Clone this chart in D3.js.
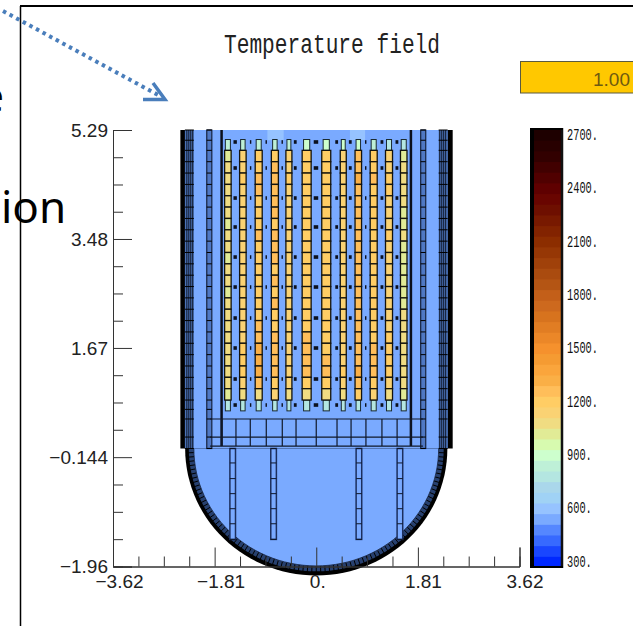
<!DOCTYPE html>
<html>
<head>
<meta charset="utf-8">
<script src="https://cdnjs.cloudflare.com/ajax/libs/d3/7.8.5/d3.min.js"></script>
<style>
html, body { margin: 0; padding: 0; background: #fff; overflow: hidden; }
svg { display: block; }
text { font-family: "Liberation Mono", monospace; }
</style>
</head>
<body>
<script>
// axis ticks
var xTicks = [-3.62, -1.81, 0, 1.81, 3.62];
var xTickLabels = ['\u22123.62', '\u22121.81', '0.', '1.81', '3.62'];
var xMinor = [-3.1675, -2.715, -2.2625, -1.3575, -0.905, -0.4525, 0.4525, 0.905, 1.3575, 2.2625, 2.715, 3.1675];
var yTicks = [5.29, 3.48, 1.67, -0.144, -1.96];
var yTickLabels = ['5.29', '3.48', '1.67', '\u22120.144', '\u22121.96'];
var yMinor = [4.8375, 4.385, 3.9325, 3.0275, 2.575, 2.1225, 1.2175, 0.764, 0.311, -0.598, -1.052, -1.506];

// colour bar, one band per 60 degrees, bottom to top
var bandColors = ['rgb(0,40,255)','rgb(25,70,255)','rgb(55,105,255)','rgb(85,135,255)','rgb(122,170,255)','rgb(150,195,255)',
  'rgb(160,210,245)','rgb(170,215,235)','rgb(180,230,225)','rgb(190,240,215)','rgb(205,255,205)','rgb(215,250,175)',
  'rgb(225,235,150)','rgb(240,220,130)','rgb(250,210,115)','rgb(255,205,100)','rgb(255,190,90)','rgb(250,175,70)',
  'rgb(250,165,60)','rgb(245,155,50)','rgb(245,145,45)','rgb(235,135,40)','rgb(225,125,35)','rgb(215,115,30)',
  'rgb(205,105,30)','rgb(195,95,25)','rgb(180,85,20)','rgb(170,75,15)','rgb(160,65,10)','rgb(150,55,5)',
  'rgb(140,45,0)','rgb(130,35,0)','rgb(120,25,0)','rgb(110,15,0)','rgb(105,5,0)','rgb(95,0,0)',
  'rgb(80,0,0)','rgb(65,0,0)','rgb(50,0,0)','rgb(40,0,0)','rgb(30,0,0)'];
var barTicks = [300, 600, 900, 1200, 1500, 1800, 2100, 2400, 2700];
var barLabels = ['300.', '600.', '900.', '1200.', '1500.', '1800.', '2100.', '2400.', '2700.'];

// fuel rods
var rodX = [-1.574, -1.307, -1.025, -0.737, -0.487, -0.171, 0.178, 0.481, 0.749, 1.023, 1.296, 1.558];
var rodW = [0.116, 0.116, 0.125, 0.125, 0.107, 0.16, 0.16, 0.107, 0.116, 0.125, 0.125, 0.116];
var rodHeadW = [0.09, 0.08, 0.09, 0.08, 0.07, 0.11, 0.11, 0.07, 0.08, 0.09, 0.09, 0.09];
var rodHeadTop = [840, 840, 840, 840, 840, 900, 900, 900, 900, 840, 780, 780];
var rodHeadBottom = [780, 780, 780, 780, 780, 780, 780, 780, 780, 780, 780, 780];
var rodTemps = [
  [1020,1080,1080,1080,1080,1080,1020,1080,1080,1020,1080,1080,1020,1080,1080,1080,1080,1080,1080,1080,1080,1020],
  [1140,1140,1200,1140,1140,1140,1140,1140,1140,1140,1140,1140,1140,1140,1140,1140,1140,1200,1200,1200,1140,1080],
  [1200,1200,1260,1260,1200,1200,1200,1260,1200,1200,1200,1200,1200,1200,1200,1260,1260,1320,1320,1320,1260,1080],
  [1200,1260,1260,1260,1260,1260,1200,1260,1260,1260,1200,1260,1200,1260,1200,1200,1260,1260,1260,1260,1200,1140],
  [1140,1140,1200,1140,1140,1140,1140,1140,1140,1140,1140,1140,1140,1140,1140,1140,1140,1140,1140,1140,1140,1080],
  [1200,1200,1200,1200,1200,1200,1200,1200,1200,1200,1200,1200,1200,1200,1200,1200,1260,1260,1260,1260,1200,1080],
  [1200,1200,1200,1200,1200,1200,1200,1200,1200,1200,1200,1200,1200,1200,1200,1200,1200,1200,1260,1260,1200,1080],
  [1140,1140,1140,1140,1140,1140,1140,1140,1140,1140,1140,1140,1140,1140,1140,1140,1140,1140,1140,1200,1140,1080],
  [1260,1260,1320,1260,1260,1260,1260,1260,1260,1260,1260,1260,1260,1260,1260,1260,1260,1260,1260,1320,1260,1200],
  [1200,1200,1260,1200,1200,1200,1200,1200,1200,1200,1200,1200,1200,1200,1200,1200,1200,1260,1260,1260,1200,1140],
  [1140,1140,1200,1200,1140,1140,1140,1200,1140,1140,1140,1140,1140,1140,1140,1140,1200,1200,1200,1200,1140,1080],
  [1020,1080,1080,1080,1080,1020,1020,1080,1020,1020,1020,1020,1020,1020,1080,1080,1080,1080,1080,1080,1080,1020]
];
var rodBottom = 0.805;
var rodSegH = 0.1885;
var rodHeadH = 0.18;

// small guide pins between the rods
var pinX = [-1.444, -1.169, -0.891, -0.606, -0.374, -0.005, 0.364, 0.606, 0.881, 1.17, 1.437];
var pinW = [0.06, 0.025, 0.025, 0.025, 0.05, 0.08, 0.05, 0.05, 0.025, 0.05, 0.05];
var pinY = [5.091, 4.659, 4.16, 3.679, 3.18, 2.682, 2.167, 1.669, 1.154, 0.722];

// support plate and columns under the core
var plateY = [0.49, 0.19, 0.04];
var plateX = [-1.686, -1.43, -1.175, -0.89, -0.605, -0.36, 0, 0.37, 0.62, 0.885, 1.17, 1.44, 1.686];
var columnX = [-1.488, -0.76, 0.76, 1.49];
var columnLevels = [0, -0.24, -0.5, -0.75, -1, -1.25, -1.51];

// warmer cells at the top of the coolant
var warmCellX0 = [-1.15, -0.87, 0.6, 0.6];
var warmCellX1 = [-0.38, -0.58, 0.87, 1.08];
var warmCellY0 = [4.95, 5.12, 5.12, 4.95];
var warmCellY1 = [5.12, 5.29, 5.29, 5.12];
var warmCellT = [555, 600, 600, 555];
var coolantT = 540;

var wallLines = [2.2, 2.235, 2.27, 2.305];
var xLabelShift = [6, 6, 1, 5, 5];
var width = 633, height = 626;

var svg = d3.select('body').append('svg').attr('width', width).attr('height', height);

var x = d3.scaleLinear().domain([-3.62, 3.62]).range([113, 519.5]);
var y = d3.scaleLinear().domain([-1.96, 5.29]).range([566.5, 130]);
var tempColor = d3.scaleQuantize().domain([270, 2730]).range(bandColors);

// slide leftovers behind the chart
svg.append('line').attr('x1', 20.5).attr('x2', 20.5).attr('y1', 6).attr('y2', 626)
  .style('stroke', '#000').style('stroke-width', 1.5);
svg.append('line').attr('x1', 20).attr('x2', 633).attr('y1', 6).attr('y2', 6)
  .style('stroke', '#000').style('stroke-width', 2);
svg.append('text').attr('x', 1).attr('y', 223).text('ion')
  .style('font-family', '"Noto Sans"').style('font-size', '44px').style('fill', '#000');
svg.append('text').attr('x', 4).attr('y', 112).attr('text-anchor', 'end').text('e')
  .style('font-family', '"Noto Sans"').style('font-size', '44px').style('fill', '#000');
svg.append('path').attr('d', 'M3,11L160,96').style('fill', 'none')
  .style('stroke', '#4a7ebb').style('stroke-width', 4).style('stroke-dasharray', '3.5,4');
svg.append('path').attr('d', 'M153,83L165,99.5L143,99.5').style('fill', 'none')
  .style('stroke', '#4a7ebb').style('stroke-width', 3.5);

// title and the time box
svg.append('text').attr('x', 224).attr('y', 53).text('Temperature field')
  .attr('textLength', 216).attr('lengthAdjust', 'spacingAndGlyphs')
  .style('font-size', '27px').style('fill', '#222');
svg.append('rect').attr('x', 520.5).attr('y', 61.5).attr('width', 120).attr('height', 31.5)
  .style('fill', '#ffc800').style('stroke', '#5a5a40');
svg.append('text').attr('x', 593).attr('y', 86).text('1.00')
  .style('font-family', '"Liberation Sans"').style('font-size', '19px').style('fill', '#6e5a10');

// coolant field
var vessel = svg.append('g');
var angles = d3.range(0, 181, 3);
function ringPoint(rx, ry, a) {
  var t = a * Math.PI / 180;
  return [x(rx * Math.cos(t)), y(-ry * Math.sin(t))];
}
function ringPath(rx, ry) {
  return d3.line()(angles.map(function(a) { return ringPoint(rx, ry, a); })) + 'Z';
}
vessel.append('path').attr('d', ringPath(2.335, 2.11)).style('fill', '#000');
vessel.append('path').attr('d', ringPath(2.27, 2.04)).style('fill', '#27406f');
vessel.selectAll('.cell').data(d3.range(0, 180, 2)).enter().append('line')
  .attr('x1', function(a) { return ringPoint(2.18, 1.95, a)[0]; })
  .attr('y1', function(a) { return ringPoint(2.18, 1.95, a)[1]; })
  .attr('x2', function(a) { return ringPoint(2.3, 2.07, a)[0]; })
  .attr('y2', function(a) { return ringPoint(2.3, 2.07, a)[1]; })
  .style('stroke', '#000').style('stroke-width', 1);
vessel.append('path').attr('d', ringPath(2.18, 1.95)).style('fill', tempColor(coolantT))
  .style('stroke', '#16233f').style('stroke-width', 0.8);

vessel.append('rect').attr('x', x(-2.42)).attr('width', x(2.43) - x(-2.42))
  .attr('y', y(5.29)).attr('height', y(0) - y(5.29)).style('fill', '#000');
vessel.append('rect').attr('x', x(-2.34)).attr('width', x(2.345) - x(-2.34))
  .attr('y', y(5.29)).attr('height', y(0) - y(5.29)).style('fill', '#4b73b8');
vessel.append('rect').attr('x', x(-2.18)).attr('width', x(2.18) - x(-2.18))
  .attr('y', y(5.29)).attr('height', y(0) - y(5.29)).style('fill', tempColor(coolantT));

vessel.selectAll('.warm').data(warmCellT).enter().append('rect')
  .attr('x', function(d, i) { return x(warmCellX0[i]); })
  .attr('width', function(d, i) { return x(warmCellX1[i]) - x(warmCellX0[i]); })
  .attr('y', function(d, i) { return y(warmCellY1[i]); })
  .attr('height', function(d, i) { return y(warmCellY0[i]) - y(warmCellY1[i]); })
  .style('fill', function(d) { return tempColor(d); });

// horizontal mesh levels of the walls follow the rod segments
var wallLevels = [5.29, 5.12].concat(d3.range(23).map(function(i) { return rodBottom + i * rodSegH; }), [0.65, 0.49, 0.19, 0]);
[-1, 1].forEach(function(side) {
  wallLines.forEach(function(r) {
    vessel.append('line').attr('x1', x(side * r)).attr('x2', x(side * r)).attr('y1', y(5.29)).attr('y2', y(0))
      .style('stroke', '#10182a').style('stroke-width', 1);
  });
  wallLevels.forEach(function(l) {
    vessel.append('line').attr('x1', x(side * 2.18)).attr('x2', x(side * 2.34)).attr('y1', y(l)).attr('y2', y(l))
      .style('stroke', '#000').style('stroke-width', 1);
  });
  // downcomer plate
  vessel.append('rect').attr('x', Math.min(x(side * 1.86), x(side * 1.95))).attr('width', Math.abs(x(side * 1.95) - x(side * 1.86)))
    .attr('y', y(5.29)).attr('height', y(0) - y(5.29))
    .style('fill', '#4f78c4').style('stroke', '#16233f').style('stroke-width', 1.2);
  wallLevels.forEach(function(l) {
    vessel.append('line').attr('x1', x(side * 1.86)).attr('x2', x(side * 1.95)).attr('y1', y(l)).attr('y2', y(l))
      .style('stroke', '#000').style('stroke-width', 1);
  });
  // core barrel
  vessel.append('line').attr('x1', x(side * 1.686)).attr('x2', x(side * 1.686)).attr('y1', y(5.29)).attr('y2', y(0.04))
    .style('stroke', '#0a0f1c').style('stroke-width', 2.5);
});

// support plate
plateY.forEach(function(l) {
  vessel.append('line').attr('x1', x(-1.89)).attr('x2', x(1.9)).attr('y1', y(l)).attr('y2', y(l))
    .style('stroke', '#10182a').style('stroke-width', 1.2);
});
vessel.selectAll('.plate').data(plateX).enter().append('line')
  .attr('x1', function(d) { return x(d); }).attr('x2', function(d) { return x(d); })
  .attr('y1', y(0.49)).attr('y2', y(0.04))
  .style('stroke', '#10182a').style('stroke-width', 1.2);

// support columns
columnX.forEach(function(c) {
  vessel.append('rect').attr('x', x(c - 0.05)).attr('width', x(c + 0.05) - x(c - 0.05))
    .attr('y', y(0)).attr('height', y(-1.51) - y(0))
    .style('fill', tempColor(coolantT)).style('stroke', '#1c2f5e').style('stroke-width', 1.5);
  columnLevels.forEach(function(l) {
    vessel.append('line').attr('x1', x(c - 0.05)).attr('x2', x(c + 0.05)).attr('y1', y(l)).attr('y2', y(l))
      .style('stroke', '#10182a').style('stroke-width', 1);
  });
});

// pins
pinY.forEach(function(py) {
  vessel.selectAll('.pin' + pinY.indexOf(py)).data(pinX).enter().append('rect')
    .attr('x', function(d, i) { return x(d - pinW[i] / 2); })
    .attr('width', function(d, i) { return x(pinW[i]) - x(0); })
    .attr('y', y(py + 0.03)).attr('height', y(0) - y(0.06))
    .style('fill', '#0c1220');
});

// rods: thin end pieces, then the segments from the top down
var rods = vessel.selectAll('.rod').data(rodTemps).enter().append('g');
rods.append('rect')
  .attr('x', function(d, i) { return x(rodX[i] - rodHeadW[i] / 2); })
  .attr('width', function(d, i) { return x(rodHeadW[i]) - x(0); })
  .attr('y', y(rodBottom + 22 * rodSegH + rodHeadH))
  .attr('height', y(0) - y(rodHeadH))
  .style('fill', function(d, i) { return tempColor(rodHeadTop[i]); })
  .style('stroke', '#1a2a30').style('stroke-width', 1);
rods.append('rect')
  .attr('x', function(d, i) { return x(rodX[i] - rodHeadW[i] / 2); })
  .attr('width', function(d, i) { return x(rodHeadW[i]) - x(0); })
  .attr('y', y(rodBottom))
  .attr('height', y(0) - y(rodHeadH))
  .style('fill', function(d, i) { return tempColor(rodHeadBottom[i]); })
  .style('stroke', '#1a2a30').style('stroke-width', 1);
rods.each(function(temps, i) {
  d3.select(this).selectAll('rect.seg').data(temps).enter().append('rect')
    .attr('class', 'seg')
    .attr('x', x(rodX[i] - rodW[i] / 2))
    .attr('width', x(rodW[i]) - x(0))
    .attr('y', function(d, j) { return y(rodBottom + (22 - j) * rodSegH); })
    .attr('height', y(0) - y(rodSegH))
    .style('fill', function(d) { return tempColor(d); })
    .style('stroke', '#14140e').style('stroke-width', 1.3);
});

// axes
var xAxis = svg.append('g').attr('transform', 'translate(0,' + y(-1.96) + ')')
  .call(d3.axisBottom(x).tickValues(xTicks).tickSize(-19).tickPadding(8)
    .tickFormat(function(d, i) { return xTickLabels[i]; }));
var xAxisMinor = svg.append('g').attr('transform', 'translate(0,' + y(-1.96) + ')')
  .call(d3.axisBottom(x).tickValues(xMinor).tickSize(-10).tickFormat(''));
var yAxis = svg.append('g').attr('transform', 'translate(' + x(-3.62) + ',0)')
  .call(d3.axisLeft(y).tickValues(yTicks).tickSize(-19).tickPadding(5)
    .tickFormat(function(d, i) { return yTickLabels[i]; }));
var yAxisMinor = svg.append('g').attr('transform', 'translate(' + x(-3.62) + ',0)')
  .call(d3.axisLeft(y).tickValues(yMinor).tickSize(-10).tickFormat(''));
[xAxis, xAxisMinor, yAxis, yAxisMinor].forEach(function(a) {
  a.selectAll('.domain').style('stroke', '#333');
  a.selectAll('line').style('stroke', '#333');
});
[xAxis, yAxis].forEach(function(a) {
  a.selectAll('text').style('font-family', '"Liberation Sans"').style('font-size', '19px').style('fill', '#222');
});
xAxis.selectAll('text').attr('dx', function(d, i) { return xLabelShift[i]; });

// colour bar
var bar = d3.scaleLinear().domain([270, 2730]).range([566.5, 129]);
var bandH = 60;
svg.selectAll('.band').data(bandColors).enter().append('rect')
  .attr('x', 532).attr('width', 30)
  .attr('y', function(d, i) { return bar(270 + (i + 1) * bandH); })
  .attr('height', function(d, i) { return bar(270) - bar(270 + bandH) + 1; })
  .style('fill', function(d) { return d; });
svg.append('line').attr('x1', 532).attr('x2', 532).attr('y1', 128).attr('y2', 568).style('stroke', '#000').style('stroke-width', 4);
svg.append('line').attr('x1', 562).attr('x2', 562).attr('y1', 128).attr('y2', 568).style('stroke', '#111').style('stroke-width', 2.5);
svg.append('line').attr('x1', 530).attr('x2', 563).attr('y1', 567).attr('y2', 567).style('stroke', '#000').style('stroke-width', 2);
svg.append('line').attr('x1', 530).attr('x2', 563).attr('y1', 129).attr('y2', 129).style('stroke', '#000').style('stroke-width', 2);
var barAxis = svg.append('g').attr('transform', 'translate(563,0)')
  .call(d3.axisRight(bar).tickValues(barTicks).tickSize(0).tickPadding(4)
    .tickFormat(function(d, i) { return barLabels[i]; }));
barAxis.select('.domain').remove();
barAxis.selectAll('text').style('font-family', '"Liberation Mono"').style('font-size', '16px').style('fill', '#111')
  .attr('lengthAdjust', 'spacingAndGlyphs')
  .attr('textLength', function() { return this.textContent.length * 6.2; });
</script>
</body>
</html>
